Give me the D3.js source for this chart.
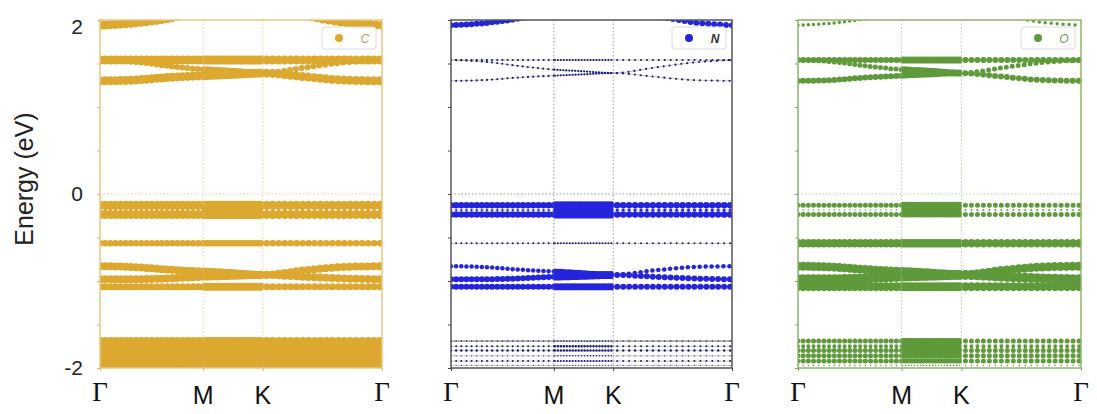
<!DOCTYPE html>
<html><head><meta charset="utf-8">
<script src="https://cdn.jsdelivr.net/npm/d3@7"></script>
<style>body{margin:0;background:#fff}svg{display:block}</style>
</head><body>
<script>
// ---------- data ----------
const kTicks = [0, 0.866, 1.366, 2.366];
const kTickLabels = ["Γ", "M", "K", "Γ"];
const kGrid = [0, 0.29, 0.58, 0.866, 1.116, 1.366, 1.70, 2.03, 2.366];
const yTicks = [-2, -1.5, -1, -0.5, 0, 0.5, 1, 1.5, 2];
const yTickLabels = ["-2", "", "", "", "0", "", "", "", "2"];
const elements = ["C", "N", "O"];

const band0  = [1.94, 1.965, 2.02, 2.12, 2.16, 2.18, 2.06, 1.975, 1.94];
const band1  = [1.54, 1.54, 1.54, 1.54, 1.54, 1.54, 1.54, 1.54, 1.54];
const band2  = [1.54, 1.52, 1.47, 1.43, 1.41, 1.39, 1.45, 1.51, 1.54];
const band3  = [1.30, 1.31, 1.34, 1.36, 1.375, 1.39, 1.35, 1.31, 1.30];
const band4  = [-0.13, -0.13, -0.13, -0.13, -0.13, -0.13, -0.13, -0.13, -0.13];
const band5  = [-0.185, -0.185, -0.185, -0.185, -0.185, -0.185, -0.185, -0.185, -0.185];
const band6  = [-0.235, -0.235, -0.235, -0.235, -0.235, -0.235, -0.235, -0.235, -0.235];
const band7  = [-0.567, -0.567, -0.567, -0.567, -0.567, -0.567, -0.567, -0.567, -0.567];
const band8  = [-0.83, -0.84, -0.87, -0.89, -0.91, -0.93, -0.88, -0.84, -0.83];
const band9  = [-0.98, -0.98, -0.97, -0.95, -0.94, -0.93, -0.95, -0.97, -0.98];
const band10 = [-1.065, -1.065, -1.065, -1.065, -1.065, -1.065, -1.065, -1.065, -1.065];
const band11 = [-1.69, -1.69, -1.69, -1.69, -1.69, -1.69, -1.69, -1.69, -1.69];
const band12 = [-1.75, -1.75, -1.75, -1.75, -1.75, -1.75, -1.75, -1.75, -1.75];
const band13 = [-1.80, -1.80, -1.80, -1.80, -1.80, -1.80, -1.80, -1.80, -1.80];
const band14 = [-1.86, -1.86, -1.86, -1.86, -1.86, -1.86, -1.86, -1.86, -1.86];
const band15 = [-1.92, -1.92, -1.92, -1.92, -1.92, -1.92, -1.92, -1.92, -1.92];
const band16 = [-1.97, -1.97, -1.97, -1.97, -1.97, -1.97, -1.97, -1.97, -1.97];
const bands = [band0, band1, band2, band3, band4, band5, band6, band7, band8,
               band9, band10, band11, band12, band13, band14, band15, band16];

// orbital weight per band on [Γ-M, M-K, K-Γ]
const weightC = [[9,9,9],[9,9,9],[6,7,6],[9,9,9],[9,9,9],[3,7,3],[9,9,9],[6.5,6.5,6.5],
                 [8,8,8],[8,8,8],[7,8,7],[8,8,8],[8,8,8],[8,8,8],[8,8,8],[8,8,8],[7,7,7]];
const weightN = [[6,0,6],[2.2,2.2,2.2],[2.2,2.2,2.2],[2.2,2.2,2.2],[6.5,8,6.5],[2,9,3],[6.5,8,6.5],[2,2,2],
                 [4.5,6,4.5],[6,8,6],[6,7,6],[1.5,1.5,1.5],[2,2.5,2],[2.5,2.5,2.5],[1.2,1.5,1.2],[2,2,2],[1,1,1]];
const weightO = [[3.5,0,3.5],[6,7,6],[5,7,5],[6,6,6],[5,7,5],[1.5,7,2],[5,6,5],[8.5,8.5,8.5],
                 [9,9,9],[10,10,10],[9,9,9],[5,6,5],[4,8,4],[5,6,5],[5,6,5],[5,5,5],[1.5,1.5,1.5]];
const weights = [weightC, weightN, weightO];

// ---------- styling ----------
const W = 1097, H = 414;
const panels = [
  {x0: 100, x1: 382, dot: "#DCA830", small: "#DCA830", frame: "#E8C77E", grid: "#E6D3A3", tick: "#D9B870", text: "#B9A070"},
  {x0: 451, x1: 732, dot: "#2424DC", small: "#1E1E78", frame: "#555555", grid: "#9a9a9a", tick: "#444", text: "#333"},
  {x0: 798, x1: 1081, dot: "#5E9A3A", small: "#5E9A3A", frame: "#8DB66E", grid: "#B8CFA4", tick: "#7FA860", text: "#6E9E50"}
];
const y0 = 20, y1 = 368;
const perSeg = 20;

const svg = d3.select("body").append("svg").attr("width", W).attr("height", H)
  .style("font-family", "'Liberation Sans', Arial, sans-serif");
const defs = svg.append("defs");
const y = d3.scaleLinear().domain([-2, 2]).range([y1, y0]);

panels.forEach((p, pi) => {
  const x = d3.scaleLinear().domain([0, 2.366]).range([p.x0, p.x1]);
  const g = svg.append("g");
  const line = d3.line().x((d, i) => x(kGrid[i])).y(d => y(d)).curve(d3.curveMonotoneX);

  // grid
  [kTicks[1], kTicks[2]].forEach(k => {
    g.append("line").attr("x1", x(k)).attr("x2", x(k)).attr("y1", y0).attr("y2", y1)
      .attr("stroke", p.grid).attr("stroke-width", 1).attr("stroke-dasharray", "1.5,2");
  });
  g.append("line").attr("x1", p.x0).attr("x2", p.x1).attr("y1", y(0)).attr("y2", y(0))
    .attr("stroke", p.grid).attr("stroke-width", 1).attr("stroke-dasharray", "1.5,2");

  // segment clips
  for (let s = 0; s < 3; s++) {
    defs.append("clipPath").attr("id", `c${pi}_${s}`).append("rect")
      .attr("x", x(kTicks[s])).attr("width", x(kTicks[s + 1]) - x(kTicks[s]))
      .attr("y", y0).attr("height", y1 - y0);
  }

  // bare band lines for N panel
  if (pi === 1) {
    defs.append("clipPath").attr("id", "cfull1").append("rect")
      .attr("x", p.x0).attr("width", p.x1 - p.x0).attr("y", y0).attr("height", y1 - y0);
    bands.forEach((b, bi) => {
      g.append("path").attr("d", line(b)).attr("fill", "none")
        .attr("stroke", bi === 11 || bi === 8 ? "#555" : "#888")
        .attr("stroke-width", bi === 11 ? 1.2 : 0.7).attr("opacity", 0.7)
        .attr("clip-path", "url(#cfull1)");
    });
  }

  // fat-band dots
  const wArr = weights[pi];
  bands.forEach((b, bi) => {
    for (let s = 0; s < 3; s++) {
      const w = wArr[bi][s];
      if (!w) continue;
      const sp = (x(kTicks[s + 1]) - x(kTicks[s])) / perSeg;
      g.append("path").attr("d", line(b)).attr("fill", "none")
        .attr("stroke", w < 3 ? p.small : p.dot)
        .attr("stroke-width", w).attr("stroke-linecap", "round")
        .attr("stroke-dasharray", `0 ${sp.toFixed(3)}`)
        .attr("clip-path", `url(#c${pi}_${s})`);
    }
  });

  // frame
  g.append("rect").attr("x", p.x0).attr("y", y0).attr("width", p.x1 - p.x0).attr("height", y1 - y0)
    .attr("fill", "none").attr("stroke", p.frame).attr("stroke-width", 1.5);

  // y axis ticks
  const ya = g.append("g").attr("transform", `translate(${p.x0},0)`)
    .call(d3.axisLeft(y).tickValues(yTicks).tickSize(3).tickFormat((d, i) => pi === 0 ? yTickLabels[i] : ""));
  ya.select(".domain").remove();
  ya.selectAll(".tick line").attr("stroke", p.tick);
  ya.selectAll(".tick text").attr("font-size", 21).attr("fill", "#222").attr("x", -17)
    .attr("font-family", "'Liberation Sans', Arial, sans-serif");
  ya.selectAll(".tick text").filter(d => d === 2).attr("dy", "0.65em");

  // x ticks
  const xa = g.append("g").attr("transform", `translate(0,${y1})`)
    .call(d3.axisBottom(x).tickValues(kTicks).tickSize(3).tickFormat(""));
  xa.select(".domain").remove();
  xa.selectAll(".tick line").attr("stroke", p.tick);

  kTicks.forEach((k, i) => {
    const lab = kTickLabels[i];
    g.append("text").attr("x", x(k)).attr("y", lab === "Γ" ? 401 : 404)
      .attr("text-anchor", "middle")
      .attr("font-family", lab === "Γ" ? "'Liberation Serif', 'DejaVu Serif', serif" : "'Liberation Sans Narrow', 'Liberation Sans', Arial, sans-serif")
      .attr("font-size", lab === "Γ" ? 27 : 25).attr("fill", "#111").text(lab);
  });

  // legend
  const lx = p.x1 - 60, ly = 27;
  g.append("rect").attr("x", lx).attr("y", ly).attr("width", 54).attr("height", 22).attr("rx", 3)
    .attr("fill", "#fff").attr("fill-opacity", 0.85).attr("stroke", "#dcdcdc").attr("stroke-width", 1);
  g.append("circle").attr("cx", lx + 17).attr("cy", ly + 11).attr("r", 4).attr("fill", p.dot);
  g.append("text").attr("x", lx + 43).attr("y", ly + 15.5).attr("text-anchor", "middle")
    .attr("font-size", 12).attr("font-style", "italic").attr("font-weight", pi === 1 ? "bold" : "normal")
    .attr("fill", p.text).text(elements[pi]);
});

svg.append("text").attr("transform", "translate(33,179) rotate(-90)")
  .attr("text-anchor", "middle").attr("font-size", 25).attr("fill", "#222").text("Energy (eV)");
</script>
</body></html>
